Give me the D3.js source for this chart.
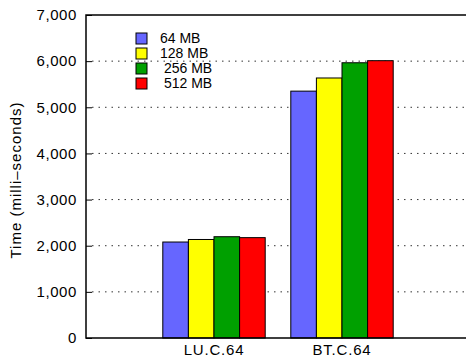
<!DOCTYPE html>
<html>
<head>
<meta charset="utf-8">
<script src="https://cdn.jsdelivr.net/npm/d3@7"></script>
<style>
  html, body { margin: 0; padding: 0; background: #fff; }
  svg text { font-family: "Liberation Sans", Arial, sans-serif; fill: #000; white-space: pre; }
</style>
</head>
<body>
<svg id="chart" width="466" height="360"></svg>
<script>
// Benchmarks on the x axis
const categories = ["LU.C.64", "BT.C.64"];
// Memory sizes, one bar per size in each group
const seriesNames = ["64 MB", "128 MB", " 256 MB", " 512 MB"];
const seriesColors = ["#6666ff", "#ffff00", "#00a000", "#ff0000"];
// Run time in milliseconds, per memory size, for each benchmark
const time64 = [2080, 5350];
const time128 = [2135, 5635];
const time256 = [2195, 5965];
const time512 = [2175, 6010];
const yTicks = [0, 1000, 2000, 3000, 4000, 5000, 6000, 7000];

const seriesValues = [time64, time128, time256, time512];

const svg = d3.select("#chart");
const plotLeft = 86, plotRight = 470, plotTop = 15, plotBottom = 338;

const y = d3.scaleLinear().domain([0, 7000]).range([plotBottom, plotTop]);
const x = d3.scaleBand().domain(categories).range([plotLeft, plotRight])
  .paddingInner(0.2).paddingOuter(0.6);
const xs = d3.scaleBand().domain(d3.range(seriesNames.length)).range([0, x.bandwidth()]);

// dotted horizontal grid
svg.append("g").selectAll("line")
  .data(yTicks.filter(t => t > 0 && t < 7000))
  .join("line")
  .attr("x1", plotLeft + 6).attr("x2", 466)
  .attr("y1", d => y(d)).attr("y2", d => y(d))
  .attr("stroke", "#333").attr("stroke-width", 1)
  .attr("stroke-dasharray", "1.5,5");

// y axis with short inward ticks
const yAxis = d3.axisLeft(y).tickValues(yTicks).tickSize(-6).tickPadding(9)
  .tickFormat(d3.format(","));
const gy = svg.append("g").attr("transform", `translate(${plotLeft},0)`).call(yAxis);
gy.select(".domain").remove();
gy.selectAll(".tick line").attr("stroke", "#000");
gy.selectAll(".tick text")
  .attr("font-size", 15).attr("letter-spacing", 0.6)
  .attr("font-family", "Liberation Sans, Arial, sans-serif");

// bars
const groups = svg.append("g").selectAll("g")
  .data(categories)
  .join("g")
  .attr("transform", d => `translate(${x(d)},0)`);
groups.selectAll("rect")
  .data((d, ci) => seriesValues.map((vals, si) => ({ si, v: vals[ci] })))
  .join("rect")
  .attr("x", d => xs(d.si))
  .attr("width", xs.bandwidth())
  .attr("y", d => y(d.v))
  .attr("height", d => y(0) - y(d.v))
  .attr("fill", d => seriesColors[d.si])
  .attr("stroke", "#000").attr("stroke-width", 1);

// frame: left, top and bottom lines
svg.append("path")
  .attr("d", `M466,${plotTop}H${plotLeft}V${plotBottom}H466`)
  .attr("fill", "none").attr("stroke", "#000").attr("stroke-width", 1.5);

// x axis labels
const xAxis = d3.axisBottom(x).tickSize(0).tickPadding(6);
const gx = svg.append("g").attr("transform", `translate(0,${plotBottom})`).call(xAxis);
gx.select(".domain").remove();
gx.selectAll(".tick text")
  .attr("font-size", 15).attr("letter-spacing", 0.8)
  .attr("font-family", "Liberation Sans, Arial, sans-serif");

// y axis title
svg.append("text")
  .attr("transform", `translate(21,180) rotate(-90)`)
  .attr("text-anchor", "middle")
  .attr("font-size", 15)
  .attr("letter-spacing", 1)
  .text("Time (milli\u2013seconds)");

// legend
const legend = svg.append("g").attr("transform", "translate(136,33)");
const rows = legend.selectAll("g").data(seriesNames).join("g")
  .attr("transform", (d, i) => `translate(0,${i * 15})`);
rows.append("rect").attr("width", 11).attr("height", 11)
  .attr("fill", (d, i) => seriesColors[i]).attr("stroke", "#000");
rows.append("text").attr("x", 24).attr("y", 10).attr("font-size", 14).text(d => d);
</script>
</body>
</html>
